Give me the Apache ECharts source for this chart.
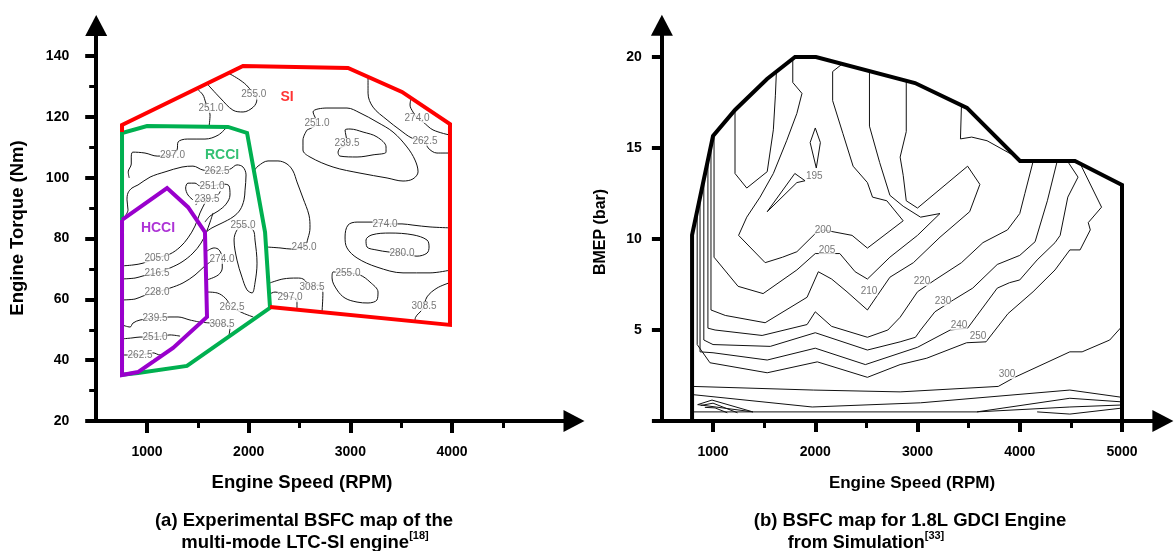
<!DOCTYPE html>
<html><head><meta charset="utf-8">
<script src="https://cdn.jsdelivr.net/npm/echarts@6/dist/echarts.min.js"></script>
<style>html,body{margin:0;padding:0;background:#fff}#c{width:1176px;height:551px}</style>
</head><body><div id="c"></div>
<script>
// ---------- tick values ----------
const LEFT_X_TICKS = [1000, 2000, 3000, 4000];
const LEFT_X_MINOR = [1500, 2500, 3500, 4500];
const LEFT_Y_TICKS = [20, 40, 60, 80, 100, 120, 140];
const LEFT_Y_MINOR = [30, 50, 70, 90, 110, 130];
const RIGHT_X_TICKS = [1000, 2000, 3000, 4000, 5000];
const RIGHT_X_MINOR = [1500, 2500, 3500, 4500];
const RIGHT_Y_TICKS = [0, 5, 10, 15, 20];
const RIGHT_Y_LABELS = [5, 10, 15, 20];

// ---------- left panel: mode boundaries (rpm, Nm) ----------
const SI_BOUNDARY = [[754,115.0],[754,117.3],[1944,136.7],[2977,136.1],[3508,128.2],[3980,117.6],[3980,51.6],[2210,57.5]];
const RCCI_BOUNDARY = [[754,86.7],[754,114.7],[1000,117.0],[1797,116.7],[1984,114.7],[2161,82.1],[2210,57.2],[1393,38.1],[911,35.8],[754,35.2],[754,86.7]];
const HCCI_BOUNDARY = [[754,86.1],[1197,96.6],[1403,90.3],[1570,82.1],[1590,54.2],[1256,44.0],[911,36.1],[754,35.1],[754,86.1]];
const MODE_NAMES = ['SI', 'RCCI', 'HCCI'];
const MODE_POS = [[2377,126.5],[1738,107.4],[1108,83.4]];

// ---------- left panel: BSFC contours (rpm, Nm) ----------
const L_255_A = [[1800,134.4],[1915,132.1],[1995,129.8],[2080,125.5],[2045,123.2],[1945,121.6],[1845,122.2],[1720,126.2],[1590,130.9]];
const L_251_A = [[1490,129.3],[1550,127.2],[1575,124.9],[1620,120.6],[1610,116.8]];
const L_297_A = [[1787,116.7],[1700,114.0],[1570,112.7],[1395,112.7],[1305,111.7],[1295,109.1],[1250,107.3],[1100,107.1],[980,108.1],[860,108.4],[845,106.5],[845,104.5],[815,101.9],[825,99.9]];
const L_262_A = [[785,87.4],[813,89.4],[803,92.7],[813,95.0],[852,96.6],[911,97.6],[1030,100.2],[1177,101.9],[1344,103.5],[1452,103.8],[1551,102.5],[1689,102.2],[1816,102.8],[1885,104.2],[1944,103.5],[1974,100.9],[1964,95.9],[1954,92.7],[1915,89.4],[1846,87.1],[1738,85.1],[1639,83.5],[1580,82.1]];
const L_251_B = [[1452,92.7],[1403,94.3],[1380,96.6],[1403,98.2],[1472,98.2],[1521,97.3],[1639,97.3],[1738,97.9],[1807,97.3],[1816,94.3],[1777,91.3],[1698,89.0],[1620,87.4],[1570,85.4]];
const L_239_A = [[1480,91.0],[1530,93.0],[1590,93.0],[1680,93.6],[1720,95.5]];
const L_205 = [[754,71.0],[862,71.3],[961,71.9],[1098,73.6],[1226,74.9],[1325,77.2],[1403,80.2],[1472,84.1],[1521,88.4],[1570,91.7],[1600,93.6]];
const L_216 = [[754,66.7],[882,67.0],[961,67.7],[1098,68.7],[1226,70.3],[1344,72.3],[1452,75.2],[1531,78.5],[1580,81.8],[1620,85.4],[1649,88.4]];
const L_228 = [[754,59.8],[882,60.1],[961,61.1],[1098,62.4],[1226,63.7],[1354,65.4],[1472,68.0],[1570,71.0],[1650,72.9]];
const L_274_A = [[1590,66.4],[1700,68.0],[1740,70.3],[1740,73.3],[1710,76.2],[1660,76.9],[1590,75.9]];
const L_239_B = [[754,51.6],[833,50.9],[862,52.2],[931,53.2],[1079,53.9],[1226,54.2],[1305,54.2],[1423,53.2],[1521,52.5]];
const L_308_A = [[1560,52.4],[1660,52.1],[1738,51.9],[1816,50.6],[1807,48.3]];
const L_251_C = [[754,47.0],[852,47.3],[931,47.6],[1079,47.6],[1226,48.3],[1325,47.9]];
const L_262_C = [[754,41.7],[813,41.7],[931,41.7],[1059,42.4],[1128,41.7],[1206,43.3]];
const L_262_B = [[1590,62.4],[1690,62.1],[1770,60.4],[1836,57.5],[1944,55.5],[2045,54.2]];
const L_255_B = [[1944,84.4],[1885,82.8],[1856,79.5],[1885,72.9],[1934,67.3],[1984,63.1],[2033,62.1],[2062,65.4],[2082,71.9],[2062,79.5],[2043,82.8],[1944,84.4]];
const L_245 = [[2052,102.2],[2092,103.8],[2190,105.5],[2288,105.5],[2377,104.5],[2436,102.2],[2475,98.6],[2534,93.3],[2593,87.7],[2603,83.5],[2584,80.2],[2550,77.5],[2430,76.5],[2308,76.9],[2180,77.2]];
const L_251_SI = [[2574,115.7],[2672,118.0],[2633,121.6],[2770,122.9],[2967,122.9],[3095,121.3],[3262,118.3],[3420,115.0],[3557,110.1],[3636,105.8],[3666,101.9],[3616,99.6],[3518,98.9],[3361,99.9],[3095,101.5],[2830,103.5],[2603,106.8],[2534,109.1],[2534,112.4],[2574,115.7]];
const L_239_SI = [[2898,109.8],[2967,111.4],[2948,115.7],[2997,116.0],[3125,115.0],[3262,113.4],[3351,110.1],[3351,108.4],[3223,107.5],[3066,106.8],[2898,107.1],[2879,108.4],[2898,109.8]];
const L_262_SI = [[3174,133.2],[3174,127.8],[3223,123.2],[3361,119.0],[3488,115.7],[3607,113.0],[3734,112.1],[3764,109.8],[3852,108.1],[3980,108.1]];
const L_274_SI = [[3597,126.2],[3587,123.9],[3616,121.6],[3656,119.6],[3715,118.3],[3813,115.7],[3980,114.0]];
const L_274_M = [[3980,83.5],[3784,83.8],[3616,84.4],[3508,84.8],[3341,84.8],[3223,85.4],[3066,85.4],[2977,84.4],[2948,80.5],[2967,76.9],[3066,73.6],[3262,70.6],[3518,68.7],[3784,68.7],[3980,69.6]];
const L_280 = [[3508,75.2],[3370,75.6],[3262,76.2],[3164,77.2],[3154,79.5],[3213,81.2],[3390,81.8],[3616,81.2],[3754,79.5],[3774,77.2],[3754,75.2],[3656,74.2],[3508,75.2]];
const L_255_SI = [[2977,68.7],[3095,68.0],[3193,65.7],[3272,62.4],[3262,59.8],[3174,58.8],[3066,59.1],[2948,60.4],[2869,63.1],[2820,67.0],[2830,69.0],[2977,68.7]];
const L_308_R = [[3636,52.8],[3640,54.0],[3715,57.0],[3754,60.8],[3852,63.7],[3980,65.5]];
const L_308_M = [[2210,65.4],[2338,66.7],[2475,67.0],[2534,66.7],[2623,64.1],[2682,64.7],[2730,62.1],[2721,55.8]];
const L_297_R = [[2210,61.8],[2259,62.4],[2407,60.8],[2475,59.8],[2475,56.6]];
const LEFT_CONTOURS = [L_255_A, L_251_A, L_297_A, L_262_A, L_251_B, L_239_A, L_205, L_216, L_228, L_274_A, L_239_B, L_308_A, L_251_C, L_262_C, L_262_B, L_255_B, L_245, L_251_SI, L_239_SI, L_262_SI, L_274_SI, L_274_M, L_280, L_255_SI, L_308_R, L_308_M, L_297_R];

// contour label texts and anchors (rpm, Nm)
const LEFT_LABEL_TEXT = ['255.0','251.0','297.0','262.5','251.0','239.5','255.0','274.0','205.0','216.5','228.0','239.5','251.0','262.5','308.5','262.5','297.0','308.5','245.0','255.0','274.0','280.0','308.5','251.0','239.5','274.0','262.5'];
const LEFT_LABEL_POS = [[2050,127.3],[1630,122.9],[1250,107.3],[1689,102.2],[1639,97.3],[1590,93.0],[1944,84.4],[1738,73.3],[1098,73.6],[1098,68.7],[1098,62.4],[1079,53.9],[1079,47.6],[931,41.7],[1738,51.9],[1836,57.5],[2407,60.8],[2623,64.1],[2545,77.0],[2977,68.7],[3341,84.8],[3508,75.2],[3725,57.8],[2672,118.0],[2967,111.4],[3656,119.6],[3734,112.1]];

// ---------- right panel: operating boundary (rpm, bar) ----------
const GDCI_BOUNDARY = [[795,0],[795,10.22],[1000,15.66],[1215,17.09],[1528,18.79],[1802,20.0],[2007,20.0],[2976,18.57],[3484,17.2],[4002,14.29],[4540,14.29],[5000,12.97],[5000,0]];

// ---------- right panel: BSFC contours (rpm, bar) ----------
const R_195 = [[2000,16.1],[2050,15.3],[2010,13.9],[1950,15.3],[2000,16.1]];
const R_195_B = [[1800,13.6],[1900,13.2],[1820,13.1],[1530,11.5],[1800,13.6]];
const R_LOBE = [[1215,17.1],[1215,13.6],[1330,12.8],[1530,13.7],[1590,16.0],[1610,17.9],[1620,19.2]];
const R_200 = [[1780,19.9],[1780,18.6],[1870,18.0],[1820,16.9],[1720,15.4],[1590,13.6],[1460,12.3],[1330,11.2],[1250,10.2],[1510,8.7],[1680,9.0],[1820,9.3],[2000,10.3],[2080,10.5],[2360,10.2],[2510,9.5],[2860,11.0],[2700,12.1],[2560,12.3],[2510,13.1],[2370,14.0],[2270,15.8],[2170,17.6],[2170,19.2],[2260,19.6]];
const R_205 = [[1010,15.7],[1010,9.0],[1245,7.4],[1490,7.0],[1820,8.3],[2000,9.2],[2240,9.2],[2390,8.2],[2510,7.8],[2730,9.0],[3000,10.2],[3220,11.4],[3030,11.2],[2860,11.8],[2730,12.4],[2630,14.2],[2530,16.2],[2530,19.2]];
const R_210 = [[980,15.1],[980,6.1],[1120,5.8],[1510,5.4],[1920,6.8],[2030,8.2],[2160,7.8],[2310,7.1],[2510,6.1],[2730,7.9],[2960,8.7],[3220,10.1],[3510,11.5],[3610,13.0],[3490,14.0],[3000,11.7],[2890,12.1],[2860,13.5],[2830,14.5],[2890,15.9],[2890,18.7]];
const R_215 = [[3430,17.4],[3420,15.5],[3530,15.6],[3680,15.4],[4000,14.4]];
const R_220 = [[950,14.35],[950,5.1],[1020,5.0],[1480,4.7],[1920,5.3],[2000,6.0],[2160,5.2],[2510,4.6],[2710,5.0],[2830,5.7],[3000,7.1],[3170,7.75],[3430,8.7],[3640,9.8],[3880,10.5],[4000,11.4],[4050,12.5],[4130,14.25]];
const R_230 = [[910,13.3],[910,4.45],[1000,4.2],[1560,4.1],[2000,4.85],[2510,3.9],[2830,4.35],[2980,4.6],[3030,5.0],[3170,6.0],[3350,6.65],[3540,7.3],[3780,8.6],[4000,9.1],[4150,9.85],[4270,12.1],[4365,14.25]];
const R_240 = [[873,12.3],[873,3.8],[1000,3.75],[1530,3.35],[2000,4.0],[2490,3.1],[3000,4.05],[3320,5.0],[3490,5.1],[3780,7.3],[3900,7.6],[4000,7.75],[4170,8.85],[4345,9.8],[4395,10.2],[4470,12.3],[4570,13.4],[4470,14.25]];
const R_250 = [[845,11.5],[845,4.2],[970,3.2],[1530,2.65],[2020,3.25],[2510,2.4],[2830,3.1],[3090,3.45],[3480,4.3],[3670,4.35],[3885,5.9],[4130,7.1],[4345,8.3],[4490,9.4],[4590,9.4],[4690,10.5],[4670,10.9],[4800,11.75],[4590,14.15]];
const R_300 = [[800,1.9],[1980,1.7],[2830,1.6],[3790,1.9],[3950,2.4],[4490,3.8],[4610,3.8],[4880,4.45],[5000,5.2]];
const R_LOW_1 = [[800,1.45],[1970,0.77],[3030,1.0],[4490,1.7],[5000,1.3]];
const R_LOW_2 = [[800,0.5],[3580,0.5],[4490,1.25],[5000,1.05]];
const R_LOW_3 = [[3580,0.5],[4490,0.77],[5000,0.88]];
const R_LOW_4 = [[4170,0.5],[4490,0.38],[5000,0.71]];
const R_LOW_5 = [[850,0.9],[990,1.15],[1390,0.5],[850,0.9]];
const R_LOW_6 = [[880,0.85],[1000,0.98],[1240,0.45]];
const R_LOW_7 = [[920,0.75],[1020,0.72],[1140,0.45]];
const RIGHT_CONTOURS = [R_195, R_195_B, R_LOBE, R_200, R_205, R_210, R_215, R_220, R_230, R_240, R_250, R_300, R_LOW_1, R_LOW_2, R_LOW_3, R_LOW_4, R_LOW_5, R_LOW_6, R_LOW_7];

const RIGHT_LABEL_TEXT = ['195','200','205','210','220','230','240','250','300'];
const RIGHT_LABEL_POS = [[1990,13.45],[2076,10.49],[2115,9.4],[2526,7.14],[3044,7.69],[3249,6.59],[3406,5.27],[3592,4.67],[3875,2.58]];

// ---------- titles ----------
const LEFT_X_TITLE = 'Engine Speed (RPM)';
const LEFT_Y_TITLE = 'Engine Torque (Nm)';
const RIGHT_X_TITLE = 'Engine Speed (RPM)';
const RIGHT_Y_TITLE = 'BMEP (bar)';
const CAPTION_A = ['(a) Experimental BSFC map of the', 'multi-mode LTC-SI engine', '[18]'];
const CAPTION_B = ['(b) BSFC map for 1.8L GDCI Engine', 'from Simulation', '[33]'];

// ================= build chart =================
const FONT = '"Liberation Sans", Arial, sans-serif';
const chart = echarts.init(document.getElementById('c'), null, {renderer: 'canvas'});

function mainAxis(grid, min, max, ticks, labels, tickLen, margin, isX) {
  return {
    type: 'value', gridIndex: grid, min: min, max: max,
    position: isX ? 'bottom' : 'left',
    axisLine: {show: true, onZero: false, symbol: ['none', 'triangle'], symbolSize: [22, 21],
      lineStyle: {color: '#000', width: 4}},
    axisTick: {show: true, customValues: ticks, length: tickLen, lineStyle: {color: '#000', width: 4}},
    axisLabel: {show: true, customValues: labels, margin: margin, color: '#000',
      formatter: function (v) { return String(v); },
      fontFamily: FONT, fontWeight: 'bold', fontSize: 14},
    splitLine: {show: false}
  };
}
function minorAxis(grid, min, max, ticks, tickLen, isX) {
  return {
    type: 'value', gridIndex: grid, min: min, max: max,
    position: isX ? 'bottom' : 'left', offset: 0,
    axisLine: {show: false, onZero: false},
    axisTick: {show: true, customValues: ticks, length: tickLen, lineStyle: {color: '#000', width: 3}},
    axisLabel: {show: false},
    splitLine: {show: false}
  };
}

const series = [];
function addLines(list, xi, yi, smooth) {
  list.forEach(function (pts) {
    series.push({type: 'line', xAxisIndex: xi, yAxisIndex: yi, data: pts, showSymbol: false,
      smooth: smooth, silent: true, z: 2, clip: false,
      lineStyle: {color: '#111', width: 1}});
  });
}
function addBoundary(pts, xi, yi, color) {
  series.push({type: 'line', xAxisIndex: xi, yAxisIndex: yi, data: pts, showSymbol: false,
    silent: true, z: 4, clip: false,
    lineStyle: {color: color, width: 4, join: 'miter', cap: 'butt'}});
}
function addLabels(texts, pos, xi, yi, color, size, weight, bg) {
  series.push({type: 'scatter', xAxisIndex: xi, yAxisIndex: yi, symbolSize: 1, z: 6, silent: true,
    itemStyle: {color: 'rgba(0,0,0,0)'},
    data: pos.map(function (p, i) { return {value: p, name: texts[i]}; }),
    label: {show: true, position: 'inside', formatter: '{b}', color: color, fontSize: size,
      fontWeight: weight, fontFamily: FONT, backgroundColor: bg, padding: [0, 0]}});
}

addLines(LEFT_CONTOURS, 0, 0, 0.35);
addBoundary(RCCI_BOUNDARY, 0, 0, '#00b050');
addBoundary(SI_BOUNDARY, 0, 0, '#ff0000');
addBoundary(HCCI_BOUNDARY, 0, 0, '#9900cc');
addLabels(LEFT_LABEL_TEXT, LEFT_LABEL_POS, 0, 0, '#555', 10, 'normal', '#fff');
addLabels([MODE_NAMES[0]], [MODE_POS[0]], 0, 0, '#ff0000', 14, 'bold', 'transparent');
addLabels([MODE_NAMES[1]], [MODE_POS[1]], 0, 0, '#00b050', 14, 'bold', 'transparent');
addLabels([MODE_NAMES[2]], [MODE_POS[2]], 0, 0, '#9900cc', 14, 'bold', 'transparent');

addLines(RIGHT_CONTOURS, 2, 2, false);
addBoundary(GDCI_BOUNDARY, 2, 2, '#000');
addLabels(RIGHT_LABEL_TEXT, RIGHT_LABEL_POS, 2, 2, '#555', 10, 'normal', '#fff');

function txt(x, y, text, size, rot, rich) {
  const o = {type: 'text', x: x, y: y, rotation: rot || 0, z: 10, silent: true,
    style: {text: text, fill: '#000', font: 'bold ' + size + 'px ' + FONT, align: 'center', verticalAlign: 'middle'}};
  if (rich) o.style.rich = rich;
  return o;
}
function supRich(size) {
  return {
    n: {fontSize: size, fontWeight: 'bold', fontFamily: FONT, lineHeight: 22, verticalAlign: 'bottom', fill: '#000', color: '#000'},
    s: {fontSize: 11, fontWeight: 'bold', fontFamily: FONT, lineHeight: 22, verticalAlign: 'top', fill: '#000', color: '#000'}
  };
}

chart.setOption({
  animation: false,
  backgroundColor: '#fff',
  grid: [
    {left: 96.2, top: 25.6, width: 477.8, height: 395.4, containLabel: false, outerBoundsMode: 'none'},
    {left: 661.9, top: 25.15, width: 501, height: 395.85, containLabel: false, outerBoundsMode: 'none'}
  ],
  xAxis: [
    mainAxis(0, 500, 5200, LEFT_X_TICKS, LEFT_X_TICKS, 12, 24, true),
    minorAxis(0, 500, 5200, LEFT_X_MINOR, 7, true),
    mainAxis(1, 500, 5400, RIGHT_X_TICKS, RIGHT_X_TICKS, 11, 24, true),
    minorAxis(1, 500, 5400, RIGHT_X_MINOR, 7, true)
  ],
  yAxis: [
    mainAxis(0, 20, 150, LEFT_Y_TICKS, LEFT_Y_TICKS, 11, 27, false),
    minorAxis(0, 20, 150, LEFT_Y_MINOR, 7, false),
    mainAxis(1, 0, 21.75, RIGHT_Y_TICKS, RIGHT_Y_LABELS, 10, 20, false)
  ],
  series: series,
  graphic: [
    txt(18, 228, LEFT_Y_TITLE, 18.5, Math.PI / 2),
    txt(601, 232, RIGHT_Y_TITLE, 16, Math.PI / 2),
    txt(302, 483, LEFT_X_TITLE, 18.5),
    txt(912, 483, RIGHT_X_TITLE, 17),
    txt(304, 521, CAPTION_A[0], 18.5),
    txt(305, 541, '{n|' + CAPTION_A[1] + '}{s|' + CAPTION_A[2] + '}', 18.5, 0, supRich(18.5)),
    txt(910, 521, CAPTION_B[0], 18.5),
    txt(866, 541, '{n|' + CAPTION_B[1] + '}{s|' + CAPTION_B[2] + '}', 18, 0, supRich(18))
  ]
});
</script>
</body></html>
